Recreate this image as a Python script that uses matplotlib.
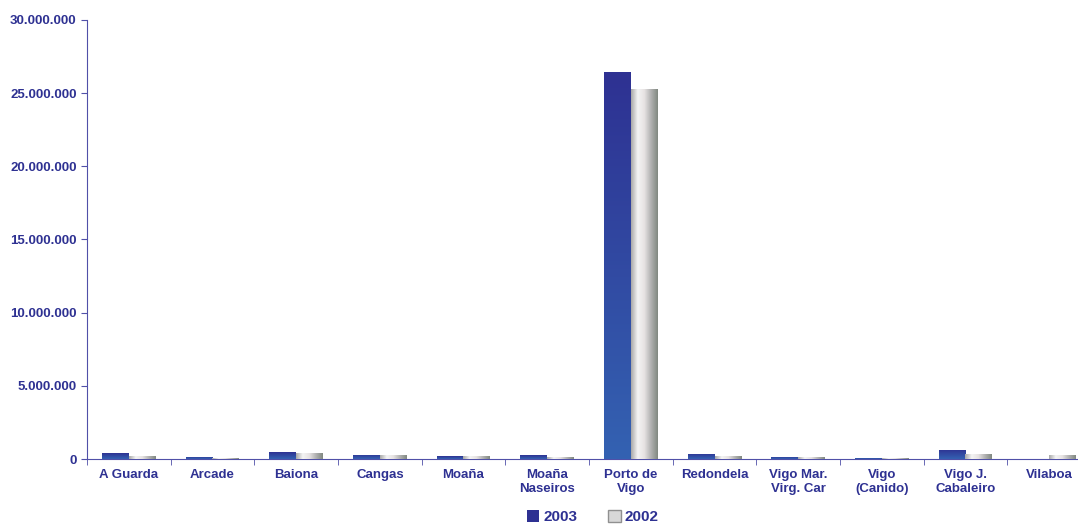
import matplotlib.pyplot as plt
import numpy as np
from matplotlib.colors import LinearSegmentedColormap
from matplotlib.ticker import FuncFormatter
from matplotlib.patches import Patch

plt.rcParams['font.family'] = ['Liberation Sans', 'DejaVu Sans']

# data
ports = ["A Guarda", "Arcade", "Baiona", "Cangas", "Moaña", "Moaña\nNaseiros",
         "Porto de\nVigo", "Redondela", "Vigo Mar.\nVirg. Car", "Vigo\n(Canido)",
         "Vigo J.\nCabaleiro", "Vilaboa"]
v2003 = [380000, 150000, 450000, 290000, 200000, 250000,
         26450000, 350000, 170000, 80000, 620000, 0]
v2002 = [230000, 100000, 380000, 290000, 200000, 150000,
         25300000, 220000, 150000, 60000, 360000, 270000]

txt = "#2E3192"
axc = "#5050A8"

blue_cm = LinearSegmentedColormap.from_list("b", ["#3462B2", "#2E3192"])
grey_cm = LinearSegmentedColormap.from_list(
    "g", ["#A8A8A8", "#F4F4F4", "#E6E2E2", "#B0B0B0", "#808880"])

fig = plt.figure(figsize=(10.78, 5.26), dpi=100)
ax = fig.add_axes([87 / 1078, 1 - 459 / 526, 1004 / 1078, 439 / 526])

x = np.arange(len(ports))
w = 0.32
b1 = ax.bar(x - w / 2, v2003, w, color="#2E3192", zorder=2)
b2 = ax.bar(x + w / 2, v2002, w, color="#C0C0C0", zorder=2)

# gradient fills
vgrad = np.linspace(0, 1, 256).reshape(-1, 1)
hgrad = np.linspace(0, 1, 256).reshape(1, -1)
for bars, cmap, grad in [(b1, blue_cm, vgrad), (b2, grey_cm, hgrad)]:
    for r in bars:
        h = r.get_height()
        if h <= 0:
            continue
        x0 = r.get_x()
        im = ax.imshow(grad, cmap=cmap, extent=(x0, x0 + r.get_width(), 0, h),
                       origin="lower", aspect="auto", zorder=3)
        im.set_clip_path(r)

ax.set_xlim(-0.5, len(ports) - 0.5)
ax.set_ylim(0, 30000000)
ax.set_yticks(range(0, 30000001, 5000000))
ax.yaxis.set_major_formatter(FuncFormatter(lambda v, p: f"{int(v):,}".replace(",", ".")))

ax.set_xticks(x)
ax.set_xticklabels(ports)
ax.set_xticks(np.arange(-0.5, len(ports), 1), minor=True)
ax.tick_params(axis="x", which="major", length=0, pad=7)
ax.tick_params(axis="x", which="minor", length=4, color=axc)
ax.tick_params(axis="y", length=4, color=axc)
for lab in ax.get_xticklabels() + ax.get_yticklabels():
    lab.set_color(txt)
    lab.set_fontweight("bold")
    lab.set_fontsize(9.5)

for s in ["top", "right"]:
    ax.spines[s].set_visible(False)
for s in ["left", "bottom"]:
    ax.spines[s].set_color(axc)

# legend
leg = fig.legend([Patch(facecolor="#2E3192"), Patch(facecolor="#D8D8D8", edgecolor="#909090")],
                 ["2003", "2002"], loc="lower center", bbox_to_anchor=(0.55, -0.02),
                 ncol=2, frameon=False, handlelength=0.9, handleheight=0.9,
                 columnspacing=2.2, handletextpad=0.3)
for t in leg.get_texts():
    t.set_color(txt)
    t.set_fontweight("bold")
    t.set_fontsize(11)

fig.savefig("out.png", dpi=100)
